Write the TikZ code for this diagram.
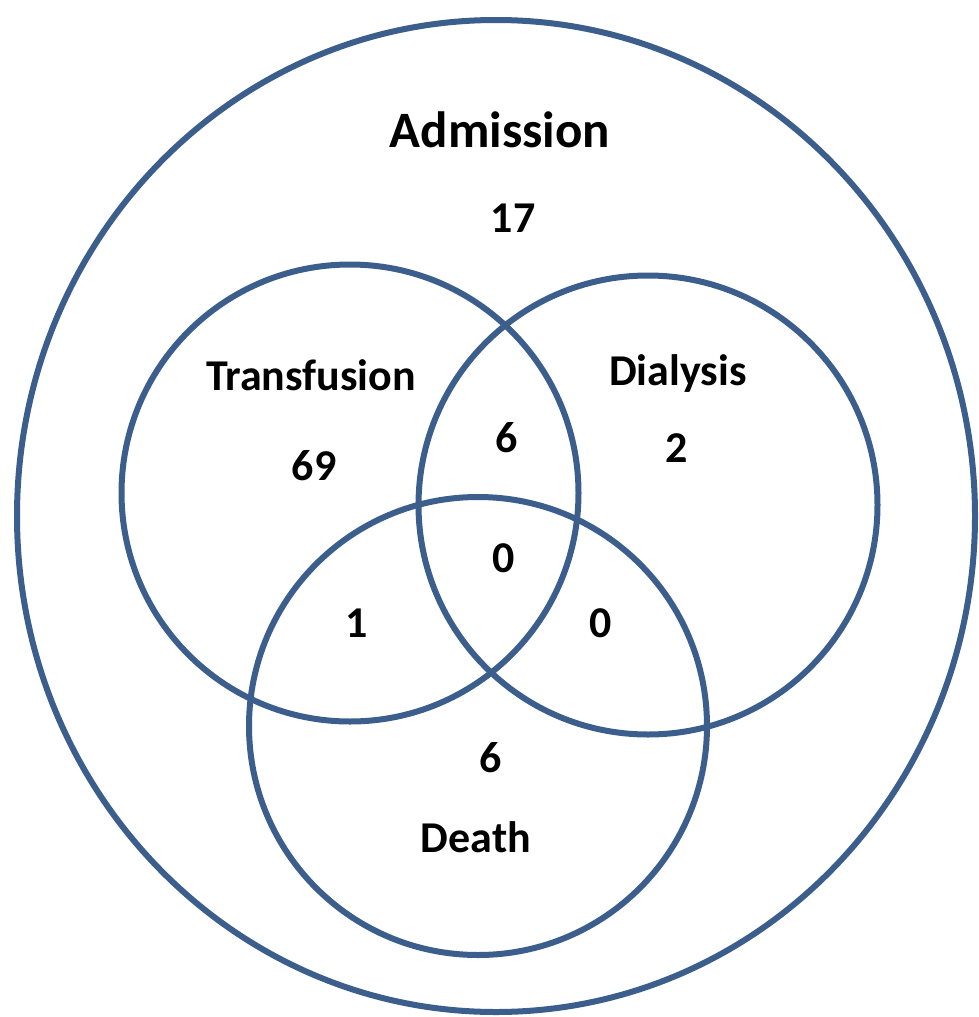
\documentclass[tikz,border=0pt]{standalone}
\usepackage{fontspec}
\setmainfont{Carlito}
\usetikzlibrary{shapes.geometric}
\definecolor{ringblue}{RGB}{59,94,140}
\tikzset{
  ring/.style={draw=ringblue, line width=6pt, circle, inner sep=0pt},
  lbl/.style={anchor=base, inner sep=0pt, font=\bfseries\fontsize{44}{52}\selectfont},
  biglbl/.style={anchor=base, inner sep=0pt, font=\bfseries\fontsize{51}{60}\selectfont}
}
\begin{document}
\begin{tikzpicture}[x=1pt,y=-1pt]
\useasboundingbox (0,0) rectangle (979,1017);
\fill[white] (0,0) rectangle (979,1017);
\node[draw=ringblue, line width=6pt, ellipse, inner sep=0pt, minimum width=958pt, minimum height=992pt] (adm) at (496,516) {};
\node[ring, minimum size=457pt] (tra) at (350,493) {};
\node[ring, minimum size=459pt] (dia) at (648,505) {};
\node[ring, minimum size=458pt] (dea) at (478,726) {};
\node[biglbl] (tadm) at (500,147) {Admission};
\node[lbl] (n17) at (513,232) {17};
\node[lbl] (ttra) at (311,390) {Transfusion};
\node[lbl] (n69) at (314,480) {69};
\node[lbl] (tdia) at (678,385) {Dialysis};
\node[lbl] (n2) at (677,462) {2};
\node[lbl] (n6a) at (507,452) {6};
\node[lbl] (n0a) at (504,572) {0};
\node[lbl] (n1) at (357,637) {1};
\node[lbl] (n0b) at (601,637) {0};
\node[lbl] (n6b) at (491,772) {6};
\node[lbl] (tdea) at (476,852) {Death};
\end{tikzpicture}
\end{document}
